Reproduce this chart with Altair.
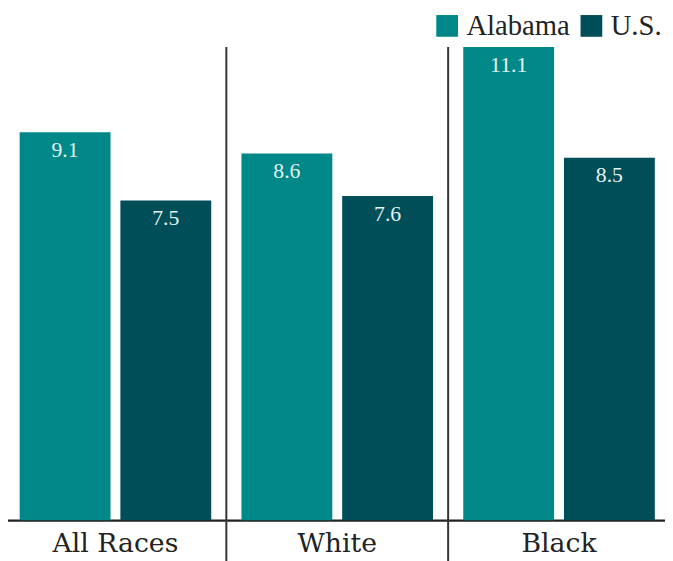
import altair as alt
import pandas as pd

races = ["All Races", "White", "Black"]
alabama = [9.1, 8.6, 11.1]
us = [7.5, 7.6, 8.5]
series = ["Alabama", "U.S."]
colors = ["#008787", "#004E57"]

rows = []
for i, r in enumerate(races):
    rows.append({"race": r, "series": "Alabama", "value": alabama[i]})
    rows.append({"race": r, "series": "U.S.", "value": us[i]})
df = pd.DataFrame(rows)
sep = pd.DataFrame({"race": races[1:]})

W, H = 665, 479
SERIF = "Liberation Serif"
AXISFONT = "DejaVu Serif"

xscale = alt.Scale(domain=races, paddingInner=0, paddingOuter=0, range=[-3.5, 670])
yscale = alt.Scale(domain=[0, 11.1], nice=False, zero=True)

bars = alt.Chart(df).mark_bar().encode(
    x=alt.X("race:N", scale=xscale, sort=races,
            axis=alt.Axis(title=None, ticks=False, labelAngle=0, labelFont=AXISFONT,
                          labelFontSize=27, labelColor="#222", labelPadding=11,
                          domainColor="#222", domainWidth=2.5)),
    xOffset=alt.XOffset("series:N", sort=series,
                        scale=alt.Scale(paddingInner=0.098, paddingOuter=0.15)),
    y=alt.Y("value:Q", scale=yscale, axis=None),
    color=alt.Color("series:N", sort=series,
                    scale=alt.Scale(domain=series, range=colors),
                    legend=alt.Legend(title=None, orient="none", legendX=430, legendY=-36,
                                      direction="horizontal", symbolType="square",
                                      symbolSize=484, symbolStrokeWidth=0,
                                      labelFont=SERIF, labelFontSize=29, labelColor="#222",
                                      labelOffset=5, columnPadding=7)),
)

labels = alt.Chart(df).mark_text(baseline="top", dy=8, font=SERIF, fontSize=22,
                                 color="#e4f3f3").encode(
    x=alt.X("race:N", scale=xscale, sort=races),
    xOffset=alt.XOffset("series:N", sort=series),
    y=alt.Y("value:Q", scale=yscale),
    text=alt.Text("value:Q", format=".1f"),
)

rules = alt.Chart(sep).mark_rule(color="#333", strokeWidth=2).encode(
    x=alt.X("race:N", scale=xscale, bandPosition=0),
    y=alt.value(0),
    y2=alt.value(H + 45),
)

chart = alt.layer(bars, labels, rules).properties(
    width=W, height=H,
    autosize=alt.AutoSizeParams(type="none"),
    padding={"left": 0, "top": 36, "right": 0, "bottom": 38},
).configure_view(stroke=None)

chart.save("out.html", embed_options={"renderer": "svg", "actions": False})
